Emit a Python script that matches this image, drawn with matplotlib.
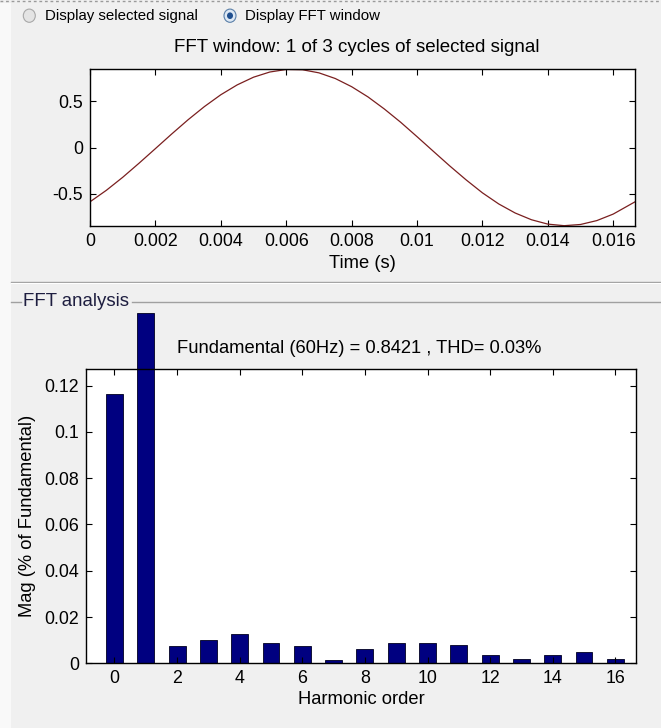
import numpy as np
import matplotlib
matplotlib.use('Agg')
import matplotlib.pyplot as plt
from matplotlib.patches import Circle, Rectangle
from matplotlib.lines import Line2D

plt.rcParams['font.family'] = ['Liberation Sans', 'DejaVu Sans']

# FFT window signal (one cycle)
t_ms = [0.0, 0.5, 1.0, 1.5, 2.0, 2.5, 3.0, 3.5, 4.0, 4.5, 5.0, 5.5, 6.0, 6.5,
        7.0, 7.5, 8.0, 8.5, 9.0, 9.5, 10.0, 10.5, 11.0, 11.5, 12.0, 12.5,
        13.0, 13.5, 14.0, 14.5, 15.0, 15.5, 16.0, 16.667]
signal = [-0.585, -0.461, -0.321, -0.169, -0.012, 0.146, 0.299, 0.441, 0.568,
          0.674, 0.757, 0.813, 0.840, 0.837, 0.804, 0.743, 0.655, 0.545, 0.415,
          0.272, 0.117, -0.041, -0.198, -0.348, -0.488, -0.608, -0.705, -0.778,
          -0.825, -0.842, -0.829, -0.787, -0.717, -0.585]

# harmonic spectrum
harmonics = list(range(17))
mag = [0.1163, 0.1512, 0.0074, 0.0099, 0.0128, 0.0086, 0.0074, 0.0013, 0.0062,
       0.0086, 0.0086, 0.0080, 0.0038, 0.0019, 0.0036, 0.0049, 0.0020]

time_ticks = [0, 0.002, 0.004, 0.006, 0.008, 0.01, 0.012, 0.014, 0.016]
time_labels = ['0', '0.002', '0.004', '0.006', '0.008', '0.01', '0.012', '0.014', '0.016']
sig_ticks = [-0.5, 0, 0.5]
sig_labels = ['-0.5', '0', '0.5']
mag_ticks = [0, 0.02, 0.04, 0.06, 0.08, 0.1, 0.12]
mag_labels = ['0', '0.02', '0.04', '0.06', '0.08', '0.1', '0.12']
harm_ticks = list(range(0, 17, 2))

W, H = 661, 728
BG = '#f0f0f0'
fig = plt.figure(figsize=(W / 100, H / 100), dpi=100, facecolor=BG)


def fx(px):
    return px / W


def fy(py):
    return 1 - py / H


# panel decorations
fig.patches.append(Rectangle((0, 0), fx(11), fy(3), transform=fig.transFigure,
                             facecolor='#f9f9f9', edgecolor='none', zorder=0))
fig.lines.append(Line2D([0, 1], [fy(1), fy(1)], transform=fig.transFigure,
                        color='#9a9a9a', lw=1, ls=(0, (2, 2))))
fig.lines.append(Line2D([fx(11), 1], [fy(281.7), fy(281.7)], transform=fig.transFigure,
                        color='#a0a0a0', lw=1))
fig.lines.append(Line2D([fx(11), 1], [fy(282.8), fy(282.8)], transform=fig.transFigure,
                        color='#ffffff', lw=0.8))
fig.lines.append(Line2D([fx(11), fx(21)], [fy(302.3), fy(302.3)], transform=fig.transFigure,
                        color='#a0a0a0', lw=1))
fig.lines.append(Line2D([fx(132), 1], [fy(302.3), fy(302.3)], transform=fig.transFigure,
                        color='#a0a0a0', lw=1))
fig.text(fx(23), fy(301.5), 'FFT analysis', fontsize=13.4, color='#1e1e40',
         ha='left', va='center')

# radio buttons
fig.patches.append(Circle((fx(29.3), fy(15.7)), fx(6), transform=fig.transFigure,
                          facecolor='#e4e4e4', edgecolor='#a8a8a8', lw=0.8))
fig.patches.append(Circle((fx(230), fy(15.7)), fx(6), transform=fig.transFigure,
                          facecolor='#dde8f4', edgecolor='#5a7fa8', lw=0.8))
fig.patches.append(Circle((fx(230), fy(15.7)), fx(3), transform=fig.transFigure,
                          facecolor='#1f4f8f', edgecolor='none'))
fig.text(fx(45), fy(15.7), 'Display selected signal', fontsize=10.8, ha='left', va='center')
fig.text(fx(245), fy(15.7), 'Display FFT window', fontsize=10.8, ha='left', va='center')

# time-domain window
ax1 = fig.add_axes([fx(90), fy(225.7), fx(635) - fx(90), fy(69.3) - fy(225.7)])
ax1.plot(np.array(t_ms) / 1000, signal, color='#7a1f1f', lw=0.9)
ax1.set_xlim(0, 1 / 60)
ax1.set_ylim(-0.8421, 0.8421)
ax1.set_xticks(time_ticks)
ax1.set_xticklabels(time_labels)
ax1.set_yticks(sig_ticks)
ax1.set_yticklabels(sig_labels)
ax1.set_xlabel('Time (s)', fontsize=13.2, labelpad=4)
fig.text(fx(357), fy(48), 'FFT window: 1 of 3 cycles of selected signal',
         fontsize=13.5, ha='center', va='center')

# harmonic spectrum
ax2 = fig.add_axes([fx(86), fy(663.3), fx(636) - fx(86), fy(369.3) - fy(663.3)])
bars = ax2.bar(harmonics, mag, width=0.54, color='#000080', edgecolor='#000020', lw=0.6)
for b in bars:
    b.set_clip_on(False)
ax2.set_xlim(-0.91, 16.66)
ax2.set_ylim(0, 0.127)
ax2.set_xticks(harm_ticks)
ax2.set_yticks(mag_ticks)
ax2.set_yticklabels(mag_labels)
ax2.set_xlabel('Harmonic order', fontsize=13.2, labelpad=3)
ax2.set_ylabel('Mag (% of Fundamental)', fontsize=13.2, va='center')
ax2.yaxis.set_label_coords(-0.107, 0.5)
fig.text(fx(359), fy(348), 'Fundamental (60Hz) = 0.8421 , THD= 0.03%',
         fontsize=13.2, ha='center', va='center')

for ax in (ax1, ax2):
    ax.set_facecolor('white')
    ax.tick_params(direction='in', top=True, right=True, length=4, width=0.8,
                   labelsize=12.8, pad=5)
    for s in ax.spines.values():
        s.set_linewidth(1.0)

fig.savefig('out.png', dpi=100, facecolor=BG)
